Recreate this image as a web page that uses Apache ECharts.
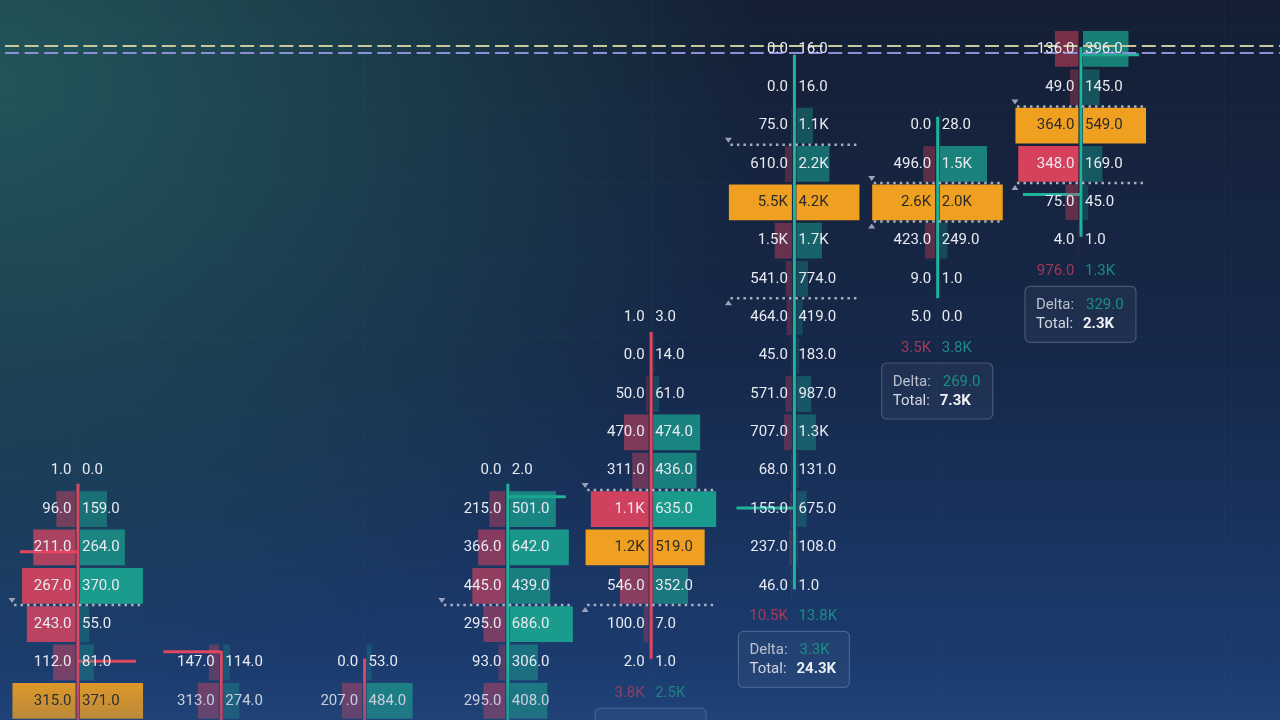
<!DOCTYPE html>
<html><head><meta charset="utf-8">
<script src="https://cdn.jsdelivr.net/npm/echarts/dist/echarts.min.js"></script>
<style>
html,body{margin:0;padding:0;}
#chart{width:1280px;height:720px;
background:
 radial-gradient(ellipse 760px 620px at 0px 80px, rgba(34,88,92,0.95) 0%, rgba(34,88,92,0.55) 45%, rgba(34,88,92,0) 100%),
 linear-gradient(180deg, #141f34 0%, #16284a 50%, #1c3f75 100%);}
</style></head>
<body><div id="chart"></div>
<script>
// ---- data (price levels are row indices, 0 = bottom visible level) ----
const candleX = [0, 1, 2, 3, 4, 5, 6, 7];
const topRow  = [6, 1, 1, 6, 10, 17, 15, 17];
const bullish = [false, false, false, true, false, true, true, true];

const c1Sell = [1, 96, 211, 267, 243, 112, 315];
const c1Buy  = [0, 159, 264, 370, 55, 81, 371];
const c2Sell = [147, 313];
const c2Buy  = [114, 274];
const c3Sell = [0, 207];
const c3Buy  = [53, 484];
const c4Sell = [0, 215, 366, 445, 295, 93, 295];
const c4Buy  = [2, 501, 642, 439, 686, 306, 408];
const c5Sell = [1, 0, 50, 470, 311, 1100, 1200, 546, 100, 2];
const c5Buy  = [3, 14, 61, 474, 436, 635, 519, 352, 7, 1];
const c6Sell = [0, 0, 75, 610, 5500, 1500, 541, 464, 45, 571, 707, 68, 155, 237, 46];
const c6Buy  = [16, 16, 1100, 2200, 4200, 1700, 774, 419, 183, 987, 1300, 131, 675, 108, 1];
const c7Sell = [0, 496, 2600, 423, 9, 5];
const c7Buy  = [28, 1500, 2000, 249, 1, 0];
const c8Sell = [136, 49, 364, 348, 75, 4];
const c8Buy  = [396, 145, 549, 169, 45, 1];

const pocRow       = [0, null, null, null, 4, 13, 13, 15];
const sellScaleMax = [315, 940, 650, 850, 1200, 5500, 2600, 364];
const buyScaleMax  = [371, 1080, 663, 686, 635, 4200, 2000, 549];

const wickHigh = [5.66, 1.3, 1.1, 5.66, 9.62, 16.85, 15.23, 17.05];
const wickLow  = [-1, -1, -1, -1, 1.1, 2.9, 10.5, 12.1];

const tickCol  = [0, 0, 1, 3, 5, 7, 7];
const tickRow  = [3.89, 1.03, 1.28, 5.32, 5.03, 13.2, 16.85];
const tickSide = [-1, 1, -1, 1, -1, -1, 1];

const vaCol  = [0, 3, 4, 4, 5, 5, 6, 6, 7, 7];
const vaRow  = [2.5, 2.5, 5.5, 2.5, 14.5, 10.5, 13.5, 12.5, 15.5, 13.5];
const vaKind = ['H', 'H', 'H', 'L', 'H', 'L', 'H', 'L', 'H', 'L'];

const footCol   = [4, 5, 6, 7];
const footSell  = [3780, 10519, 3533, 976];
const footBuy   = [2502, 13810, 3778, 1305];
const footDelta = [-1278, 3291, 269, 329];
const footTotal = [6282, 24329, 7311, 2281];

const priceLines = [17.083, 16.9];
const priceLineColors = ['#c9c89b', '#8a8fd8'];

// ---- build tables ----
const sells = [c1Sell, c2Sell, c3Sell, c4Sell, c5Sell, c6Sell, c7Sell, c8Sell];
const buys  = [c1Buy, c2Buy, c3Buy, c4Buy, c5Buy, c6Buy, c7Buy, c8Buy];
const cells = [];
candleX.forEach((c, i) => {
  sells[i].forEach((s, k) => cells.push([c, topRow[i] - k, s, buys[i][k]]));
});
const wicks = candleX.map((c, i) => [c, wickLow[i], wickHigh[i]]);
const ticks = tickCol.map((c, i) => [c, tickRow[i], tickSide[i]]);
const vas = vaCol.map((c, i) => [c, vaRow[i], vaKind[i] === 'H' ? 1 : 0]);
const foots = footCol.map(c => [c, topRow[c] - sells[c].length + 1 - 0.8]);

const RED = [232, 68, 95], TEAL = [26, 160, 142], ORANGE = '#f0a020';
const rgba = (c, a) => `rgba(${c[0]},${c[1]},${c[2]},${a.toFixed(3)})`;
const fmt = v => { const a = Math.abs(v); const s = a >= 1000 ? (a / 1000).toFixed(1) + 'K' : a.toFixed(1); return (v < 0 ? '-' : '') + s; };
const FONT = 'Roboto, "Noto Sans", sans-serif';
function txt(x, y, text, fill, align, weight) {
  return { type: 'text', style: { x, y, text, fill, font: (weight || 'normal') + ' 15px ' + FONT,
    textAlign: align, align: align, textVerticalAlign: 'middle', verticalAlign: 'middle' } };
}

function renderBars(params, api) {
  const col = api.value(0), row = api.value(1), s = api.value(2), b = api.value(3);
  const p = api.coord([col, row]);
  const unit = api.size([1, 0])[0], rowH = api.size([0, 1])[1];
  const maxW = unit * 0.44, h = rowH - 2.6;
  const poc = pocRow[col] === row;
  const sr = Math.min(1, s / sellScaleMax[col]), br = Math.min(1, b / buyScaleMax[col]);
  const children = [];
  if (s > 0) children.push({ type: 'rect', shape: { x: p[0] - 2.5 - sr * maxW, y: p[1] - h / 2, width: sr * maxW, height: h },
    style: { fill: poc ? ORANGE : rgba(RED, 0.2 + 0.75 * sr) } });
  if (b > 0) children.push({ type: 'rect', shape: { x: p[0] + 2, y: p[1] - h / 2, width: br * maxW, height: h },
    style: { fill: poc ? ORANGE : rgba(TEAL, 0.2 + 0.75 * br) } });
  return { type: 'group', children };
}
function renderCellText(params, api) {
  const col = api.value(0), row = api.value(1), s = api.value(2), b = api.value(3);
  const p = api.coord([col, row]);
  const poc = pocRow[col] === row;
  const f = poc ? '#2b2a28' : '#e8eaf1';
  return { type: 'group', children: [txt(p[0] - 6.5, p[1], fmt(s), f, 'right'), txt(p[0] + 4, p[1], fmt(b), f, 'left')] };
}
function renderWick(params, api) {
  const col = api.value(0);
  const a = api.coord([col, api.value(2)]), b = api.coord([col, api.value(1)]);
  return { type: 'rect', shape: { x: a[0] - 1.5, y: a[1], width: 3, height: b[1] - a[1] },
    style: { fill: bullish[col] ? '#1fb39c' : '#e0475f' } };
}
function renderTick(params, api) {
  const col = api.value(0), side = api.value(2);
  const p = api.coord([col, api.value(1)]);
  return { type: 'line', shape: { x1: p[0], y1: p[1], x2: p[0] + side * 58, y2: p[1] },
    style: { stroke: bullish[col] ? '#1fb39c' : '#e0475f', lineWidth: 3 } };
}
function renderVA(params, api) {
  const col = api.value(0), hi = api.value(2) === 1;
  const p = api.coord([col, api.value(1)]);
  const cx = p[0], cy = p[1];
  const tri = hi ? [[cx - 69.5, cy - 7], [cx - 62.5, cy - 7], [cx - 66, cy - 2]]
                 : [[cx - 69.5, cy + 7], [cx - 62.5, cy + 7], [cx - 66, cy + 2]];
  return { type: 'group', children: [
    { type: 'line', shape: { x1: cx - 64, y1: cy, x2: cx + 66, y2: cy },
      style: { stroke: 'rgba(190,196,212,0.85)', lineWidth: 2.5, lineDash: [2.5, 4] } },
    { type: 'polygon', shape: { points: tri }, style: { fill: '#9aa1b8' } }
  ] };
}
function renderFoot(params, api) {
  const i = params.dataIndex, col = api.value(0);
  const p = api.coord([col, api.value(1)]);
  const cx = p[0], cy = p[1];
  const bx = cx - 56, by = cy + 15;
  const d = footDelta[i];
  return { type: 'group', children: [
    txt(cx - 6.5, cy, fmt(footSell[i]), 'rgba(192,57,90,0.85)', 'right'),
    txt(cx + 4, cy, fmt(footBuy[i]), 'rgba(27,151,138,0.9)', 'left'),
    { type: 'rect', shape: { x: bx, y: by, width: 111, height: 56, r: 5 },
      style: { fill: 'rgba(255,255,255,0.04)', stroke: 'rgba(190,200,220,0.28)', lineWidth: 1.2 } },
    txt(bx + 11, by + 19, 'Delta:', '#b9bfcc', 'left'),
    txt(bx + 61, by + 19, fmt(d), d >= 0 ? '#1a8f82' : '#b8395a', 'left'),
    txt(bx + 11, by + 38, 'Total:', '#d4d8e0', 'left'),
    txt(bx + 58, by + 38, fmt(footTotal[i]), '#f0f2f6', 'left', 'bold')
  ] };
}

const gridX = [0, 2, 4, 6, 8];
const gridY = [1.5, 3.5, 5.5, 7.5, 9.5, 11.5, 13.5, 15.5, 17.5];

const chart = echarts.init(document.getElementById('chart'), null, { renderer: 'canvas' });
chart.setOption({
  backgroundColor: 'transparent',
  animation: false,
  grid: { left: 0, right: 0, top: 0, bottom: 0 },
  xAxis: { type: 'value', min: -0.5444, max: 8.389, show: false, splitLine: { show: false } },
  yAxis: { type: 'value', min: -0.5, max: 18.275, show: false, splitLine: { show: false } },
  graphic: [{ type: 'rect', z: 100, silent: true, shape: { x: 0, y: 662, width: 1280, height: 58 },
    style: { fill: new echarts.graphic.LinearGradient(0, 0, 0, 1, [
      { offset: 0, color: 'rgba(45,75,125,0)' }, { offset: 1, color: 'rgba(45,75,125,0.28)' }]) } }],
  series: [
    { type: 'line', data: [], z: 1, silent: true,
      markLine: { silent: true, symbol: 'none', label: { show: false },
        lineStyle: { color: 'rgba(255,255,255,0.018)', type: 'solid', width: 1 },
        data: gridX.map(v => ({ xAxis: v })).concat(gridY.map(v => ({ yAxis: v }))) } },
    { type: 'line', data: [], z: 2, silent: true,
      markLine: { silent: true, symbol: 'none', label: { show: false },
        data: priceLines.map((v, i) => ({ yAxis: v,
          lineStyle: { color: priceLineColors[i], type: [14, 5.6], dashOffset: 14.6, width: 2 } })) } },
    { type: 'custom', z: 3, data: ticks, renderItem: renderTick, encode: { x: 0, y: 1 }, silent: true },
    { type: 'custom', z: 4, data: cells, renderItem: renderBars, encode: { x: 0, y: 1 }, silent: true },
    { type: 'custom', z: 5, data: wicks, renderItem: renderWick, encode: { x: 0, y: [1, 2] }, silent: true },
    { type: 'custom', z: 6, data: vas, renderItem: renderVA, encode: { x: 0, y: 1 }, silent: true },
    { type: 'custom', z: 7, data: cells, renderItem: renderCellText, encode: { x: 0, y: 1 }, silent: true },
    { type: 'custom', z: 8, data: foots, renderItem: renderFoot, encode: { x: 0, y: 1 }, silent: true }
  ]
});
</script>
</body></html>
